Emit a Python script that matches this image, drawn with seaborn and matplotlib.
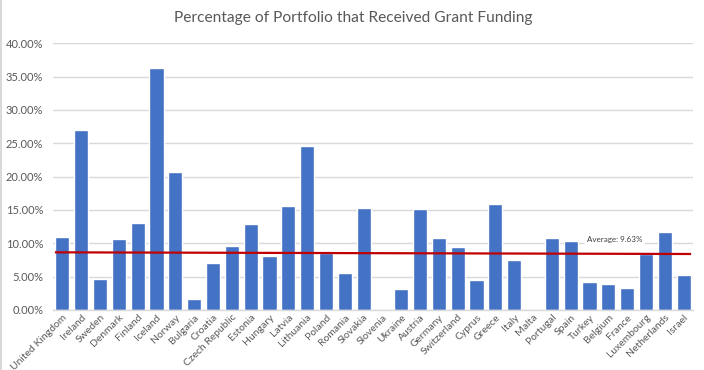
import matplotlib
matplotlib.use("Agg")
import matplotlib.pyplot as plt
import matplotlib.ticker as mticker
import seaborn as sns
import pandas as pd

countries = ["United Kingdom", "Ireland", "Sweden", "Denmark", "Finland", "Iceland",
             "Norway", "Bulgaria", "Croatia", "Czech Republic", "Estonia", "Hungary",
             "Latvia", "Lithuania", "Poland", "Romania", "Slovakia", "Slovenia",
             "Ukraine", "Austria", "Germany", "Switzerland", "Cyprus", "Greece",
             "Italy", "Malta", "Portugal", "Spain", "Turkey", "Belgium", "France",
             "Luxembourg", "Netherlands", "Israel"]
grant_pct = [10.95, 27.0, 4.65, 10.65, 13.05, 36.3,
             20.7, 1.65, 7.05, 9.6, 12.9, 8.1,
             15.6, 24.6, 8.6, 5.55, 15.3, 0.0,
             3.15, 15.15, 10.8, 9.45, 4.5, 15.9,
             7.5, 0.0, 10.8, 10.35, 4.2, 3.9, 3.3,
             8.4, 11.7, 5.25]
avg_line_values = [8.65, 8.4]   # red average line at left and right ends
avg_label = "Average: 9.63%"
avg_label_pos = (29.35, 10.5)
y_ticks = [0, 5, 10, 15, 20, 25, 30, 35, 40]

df = pd.DataFrame({"country": countries, "pct": [v / 100 for v in grant_pct]})

sns.set_theme(style="white")
plt.rcParams["font.family"] = ["Lato", "DejaVu Sans"]

fig = plt.figure(figsize=(7.04, 3.70), dpi=100)
ax = fig.add_axes([53 / 704, 1 - 310 / 370, 640 / 704, (310 - 43.3) / 370])

sns.barplot(data=df, x="country", y="pct", color="#4472C4", saturation=1,
            width=0.75, ax=ax, zorder=2)

ax.set_ylim(0, 0.40)
ax.set_xlim(-0.5, len(countries) - 0.5)
ax.set_yticks([t / 100 for t in y_ticks])
ax.yaxis.set_major_formatter(mticker.PercentFormatter(1.0, decimals=2))
ax.grid(axis="y", color="#d9d9d9", linewidth=1, zorder=0)
ax.set_axisbelow(True)
for s in ["top", "right", "left"]:
    ax.spines[s].set_visible(False)
ax.spines["bottom"].set_color("#d9d9d9")
ax.spines["bottom"].set_linewidth(1)
ax.tick_params(axis="both", length=0, colors="#595959", labelsize=7.5)
ax.tick_params(axis="y", pad=7, labelsize=8)
ax.tick_params(axis="x", pad=2)
plt.setp(ax.get_xticklabels(), rotation=45, ha="right", rotation_mode="anchor")
ax.set_xlabel("")
ax.set_ylabel("")

n = len(countries)
ax.plot([-0.4, n - 1 + 0.4], [v / 100 for v in avg_line_values],
        color="#C00000", linewidth=1.6, zorder=3, solid_capstyle="butt")
ax.text(avg_label_pos[0], avg_label_pos[1] / 100, avg_label, fontsize=5.8,
        color="#404040", ha="center", va="center", zorder=4,
        bbox=dict(facecolor="white", edgecolor="none", pad=1.5))

fig.text(353 / 704, 1 - 18 / 370, "Percentage of Portfolio that Received Grant Funding",
         ha="center", va="center", fontsize=11.2, color="#595959")

fig.add_artist(plt.Line2D([0.001, 0.001], [0, 1], color="#d9d9d9", linewidth=1.5,
                          transform=fig.transFigure))

fig.savefig("out.png", dpi=100)
